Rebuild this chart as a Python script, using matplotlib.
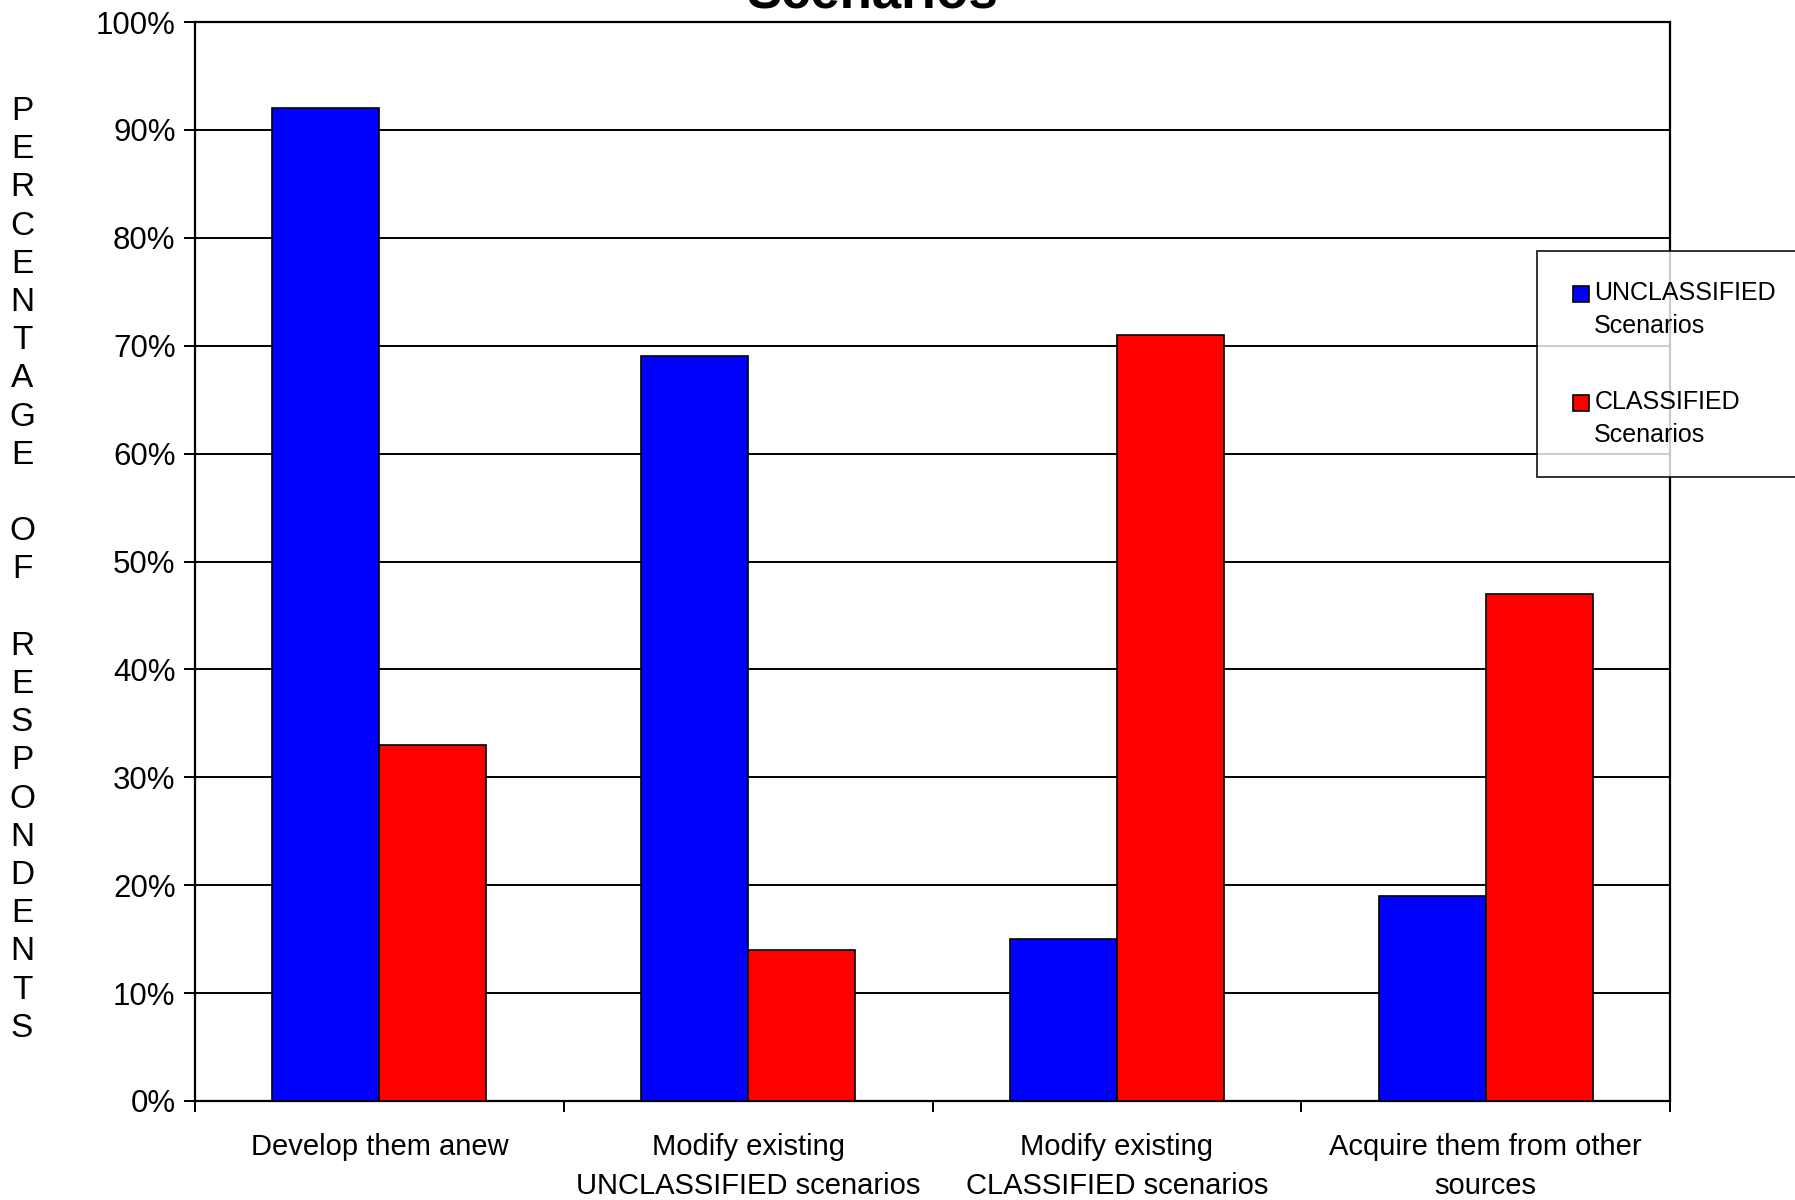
import matplotlib.pyplot as plt
import matplotlib.patches as mpatches
from matplotlib.legend_handler import HandlerPatch
import numpy as np

plt.rcParams['font.family'] = ['Liberation Sans', 'DejaVu Sans']

categories = ['Develop them anew', 'Modify existing\nUNCLASSIFIED scenarios',
              'Modify existing\nCLASSIFIED scenarios', 'Acquire them from other\nsources']
unclassified = [92, 69, 15, 19]
classified = [33, 14, 71, 47]
series_names = ['UNCLASSIFIED\nScenarios', 'CLASSIFIED\nScenarios']
ylabel_letters = 'PERCENTAGE OF RESPONDENTS'

fig = plt.figure(figsize=(17.95, 12), dpi=100)
ax = fig.add_axes([195 / 1795, 1 - 1101 / 1200, (1670 - 195) / 1795, (1101 - 22) / 1200])

x = np.arange(len(categories))
w = 0.29
b1 = ax.bar(x - w / 2, unclassified, w, color='#0000ff', edgecolor='black', linewidth=1.2, zorder=3)
b2 = ax.bar(x + w / 2, classified, w, color='#ff0000', edgecolor='black', linewidth=1.2, zorder=3)

ax.set_xlim(-0.5, 3.5)
ax.set_ylim(0, 100)
ax.set_yticks(np.arange(0, 101, 10))
ax.set_yticklabels([f'{v}%' for v in range(0, 101, 10)], fontsize=22.5)
ax.yaxis.grid(True, color='black', linewidth=1.4, zorder=0)
ax.set_axisbelow(True)

ax.set_xticks(x)
ax.set_xticklabels(categories, fontsize=21, linespacing=1.48)
ax.set_xticks(np.arange(-0.5, 3.6, 1), minor=True)
ax.tick_params(axis='x', which='major', length=0, pad=23)
ax.tick_params(axis='x', which='minor', direction='out', length=8, width=1.4)
ax.tick_params(axis='y', direction='out', length=8, width=1.4, pad=6)
for s in ax.spines.values():
    s.set_linewidth(1.6)

# stacked vertical letters for y label
fig.text(22 / 1795, 1 - 96 / 1200, '\n'.join(ylabel_letters), fontsize=24,
         ha='center', va='top', linespacing=1.30)

fig.text(872 / 1795, 1 - 7 / 1200, 'Scenarios', fontsize=38, fontweight='bold',
         ha='center', va='baseline')


def top_square(legend, orig_handle, xdescent, ydescent, width, height, fontsize):
    # small square next to the first line of a two-line label
    return mpatches.Rectangle((-xdescent + 4, -ydescent + fontsize * 0.64), width, height)


leg = fig.legend([b1.patches[0], b2.patches[0]], series_names, loc='upper left',
                 bbox_to_anchor=(1537 / 1795, 1 - 251 / 1200), fontsize=18,
                 frameon=True, fancybox=False, edgecolor='black', handlelength=0.65,
                 handleheight=0.65, handletextpad=0.44, labelspacing=2.1,
                 borderpad=1.2, borderaxespad=0,
                 handler_map={mpatches.Rectangle: HandlerPatch(patch_func=top_square)})
leg.get_frame().set_linewidth(1.4)
for t in leg.get_texts():
    t.set_linespacing(1.45)

fig.savefig('out.png', dpi=100)
